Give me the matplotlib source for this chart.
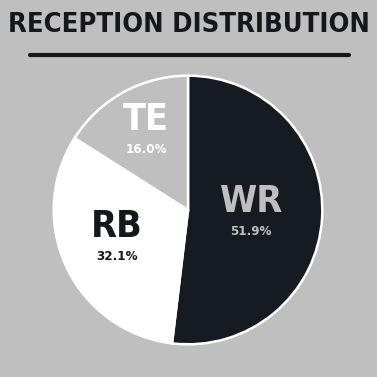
import matplotlib
matplotlib.use("Agg")
import matplotlib.pyplot as plt

# data
positions = ["WR", "RB", "TE"]
shares = [51.9, 32.1, 16.0]
slice_colors = ["#161b21", "#ffffff", "#bfbfbf"]
label_colors = ["#bfbfbf", "#14181d", "#ffffff"]
# label anchor spots inside the pie (unit radius)
label_xy = [(0.47, 0.06), (-0.53, -0.13), (-0.31, 0.67)]

bg = "#bfbfbf"
font = ["DejaVu Sans"]
stretch = "condensed"

fig = plt.figure(figsize=(3.77, 3.77), dpi=100, facecolor=bg)

# title + underline
fig.text(0.5, 0.934, "RECEPTION DISTRIBUTION", ha="center", va="center",
         fontsize=19.6, fontweight="bold", family=font, fontstretch=stretch,
         color="#14181d")
fig.add_artist(plt.Line2D([0.08, 0.925], [0.854, 0.854], color="#14181d",
                          lw=3, solid_capstyle="round"))

ax = fig.add_axes([0.1353, 0.0796, 0.7268, 0.7268])
ax.set_facecolor(bg)
ax.pie(shares, colors=slice_colors, startangle=90, counterclock=False,
       radius=1, wedgeprops=dict(edgecolor="white", linewidth=1.8))
ax.set_xlim(-1.02, 1.02)
ax.set_ylim(-1.02, 1.02)
ax.set_aspect("equal")
ax.axis("off")

for name, val, col, (x, y) in zip(positions, shares, label_colors, label_xy):
    ax.text(x, y, name, ha="center", va="center", fontsize=27,
            fontweight="bold", family=font, fontstretch=stretch, color=col)
    ax.text(x, y - 0.22, f"{val:.1f}%", ha="center", va="center",
            fontsize=9.5, fontweight="bold", family=font, fontstretch=stretch,
            color=col)

fig.savefig("out.png", dpi=100, facecolor=bg)
